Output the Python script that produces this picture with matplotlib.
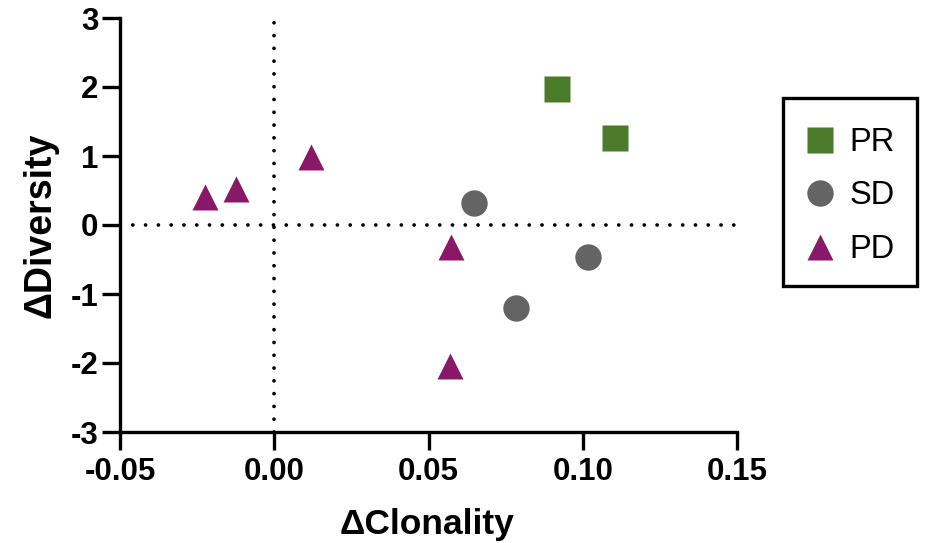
import matplotlib
matplotlib.use("Agg")
import matplotlib.pyplot as plt
from matplotlib.lines import Line2D
from matplotlib.patches import Rectangle

plt.rcParams['font.family'] = ['Liberation Sans', 'DejaVu Sans']

# Data
pr_x = [0.0915, 0.1105]
pr_y = [1.97, 1.26]
sd_x = [0.0649, 0.1018, 0.0784]
sd_y = [0.32, -0.46, -1.21]
pd_x = [-0.0226, -0.0125, 0.0118, 0.0574, 0.0571]
pd_y = [0.41, 0.52, 0.99, -0.32, -2.04]

x_ticks = [-0.05, 0.00, 0.05, 0.10, 0.15]
x_ticklabels = ["-0.05", "0.00", "0.05", "0.10", "0.15"]
y_ticks = [-3, -2, -1, 0, 1, 2, 3]
y_ticklabels = ["-3", "-2", "-1", "0", "1", "2", "3"]

green = "#4a7a2a"
grey = "#646464"
purple = "#8a1868"

W, H = 928, 543
fig = plt.figure(figsize=(W / 100, H / 100), dpi=100)
ax = fig.add_axes([120 / W, (H - 432) / H, 617 / W, 414 / H])

ms = 19
ax.plot(pr_x, pr_y, linestyle='none', marker='s', ms=ms, color=green, mec='none', zorder=3, clip_on=False)
ax.plot(sd_x, sd_y, linestyle='none', marker='o', ms=ms, color=grey, mec='none', zorder=3, clip_on=False)
ax.plot(pd_x, pd_y, linestyle='none', marker='^', ms=ms, color=purple, mec='none', zorder=3, clip_on=False)

dot = (0, (0.01, 3.4))
ax.axhline(0, color='black', lw=2.7, linestyle=dot, dash_capstyle='round', zorder=1)
ax.axvline(0, color='black', lw=2.7, linestyle=dot, dash_capstyle='round', zorder=1)

ax.set_xlim(-0.05, 0.15)
ax.set_ylim(-3, 3)
ax.set_xticks(x_ticks)
ax.set_xticklabels(x_ticklabels)
ax.set_yticks(y_ticks)
ax.set_yticklabels(y_ticklabels)

for s in ['top', 'right']:
    ax.spines[s].set_visible(False)
for s in ['left', 'bottom']:
    ax.spines[s].set_linewidth(2.4)
    ax.spines[s].set_capstyle('projecting')

ax.tick_params(axis='both', direction='out', length=13, width=2.4, labelsize=22.5)
ax.tick_params(axis='x', pad=5)
ax.tick_params(axis='y', pad=2.5)
for lab in ax.get_xticklabels() + ax.get_yticklabels():
    lab.set_fontweight('bold')

ax.set_xlabel("ΔClonality", fontsize=25.5, fontweight='bold')
ax.xaxis.set_label_coords(0.498, (432 - 534) / 414)
ax.xaxis.label.set_verticalalignment('baseline')

ax.set_ylabel("ΔDiversity", fontsize=27, fontweight='bold')
ax.yaxis.set_label_coords((58 - 120) / 617, 0.5)

handles = [
    Line2D([], [], linestyle='none', marker='s', ms=ms, color=green, mec='none'),
    Line2D([], [], linestyle='none', marker='o', ms=ms, color=grey, mec='none'),
    Line2D([], [], linestyle='none', marker='^', ms=ms, color=purple, mec='none'),
]
leg = fig.legend(handles, ["PR", "SD", "PD"], loc='center left',
                 bbox_to_anchor=(804 / W, 1 - 196 / H), fontsize=23.5,
                 frameon=False, handlelength=1.0, handletextpad=0.4,
                 labelspacing=0.69, borderpad=0, borderaxespad=0)

fig.patches.append(Rectangle((783 / W, 1 - 286 / H), 134 / W, 188 / H,
                             transform=fig.transFigure, fill=False,
                             edgecolor='black', linewidth=2.4))

fig.savefig("out.png", dpi=100)
